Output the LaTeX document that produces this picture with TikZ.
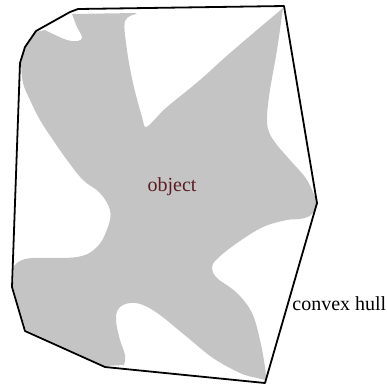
\documentclass[tikz,border=0pt]{standalone}
\usepackage{fontspec}
\setmainfont{Liberation Serif}
\usepackage{tikz}
\usetikzlibrary{positioning}
\definecolor{objgray}{RGB}{196,196,196}
\definecolor{objred}{RGB}{92,28,34}
\tikzset{%
  % shapes
  object/.style={fill=objgray},
  hull/.style={draw, line width=0.9pt, line join=round},
  % labels
  lbl/.style={font=\normalsize, inner sep=0pt},
  objlbl/.style={lbl, text=objred},
}

\begin{document}
\begin{tikzpicture}[x=0.5pt, y=-0.5pt]
  \useasboundingbox (0,0) rectangle (387,388);

  % the object
  \path[object] (283,8)
    -- plot[smooth, tension=0.6] coordinates {(283,8) (277,50) (270,90) (267,117) (269,132) (277,145) (290,160) (307,180) (318,204)}
    -- plot[smooth, tension=0.6] coordinates {(318,204) (311,215) (300,219) (287,220) (263,227) (237,243) (217,259) (212,268) (217,278) (237,293) (252,313) (260,340) (265,367) (266,380)}
    -- plot[smooth, tension=0.6] coordinates {(266,380) (257,378) (240,373) (213,358) (187,337) (160,315) (143,305) (130,303) (119,308) (116,320) (120,340) (125,355) (124,365)}
    -- (105,366) -- (26,330) -- (13,287) -- (14,266)
    -- plot[smooth, tension=0.6] coordinates {(14,266) (20,261) (33,258) (77,257) (97,247) (108,227) (110,210) (100,193) (83,180) (67,160) (53,140) (40,120) (30,100) (23,83) (21,63)}
    -- (25,47) -- (35,32) -- (45,30)
    -- plot[smooth, tension=0.6] coordinates {(45,30) (53,34) (67,40) (78,41) (82,37) (77,27) (72,14)}
    -- (135,13)
    -- plot[smooth, tension=0.6] coordinates {(137,14) (125,21) (127,50) (133,83) (142,117) (146,127) (157,117) (167,107) (200,80) (230,53) (283,8)}
    -- cycle;

  % hull corners
  \coordinate (h1) at (78,9);
  \coordinate (h2) at (284,6);
  \coordinate (h3) at (317,203);
  \coordinate (h4) at (265,383);
  \coordinate (h5) at (105,367);
  \coordinate (h6) at (25,331);
  \coordinate (h7) at (12,287);
  \coordinate (h8) at (20,63);
  \coordinate (h9) at (25,47);
  \coordinate (h10) at (36,31);
  \coordinate (h11) at (70,12);

  \draw[hull] (h1) -- (h2) -- (h3) -- (h4) -- (h5) -- (h6) -- (h7)
    -- (h8) -- (h9) -- (h10) -- (h11) -- cycle;

  \node[objlbl] (obj) at (172,187) {object};
  \node[lbl, anchor=west] (hulllbl) at (292,304) {convex hull};

\end{tikzpicture}
\end{document}
